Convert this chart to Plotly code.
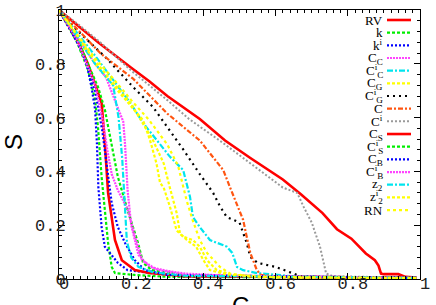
import plotly.graph_objects as go

# ---------------- data ----------------
series_names = ["RV", "k", "k<sup>i</sup>", "C<sub>C</sub>", "C<sup>i</sup><sub>C</sub>",
                "C<sub>G</sub>", "C<sup>i</sup><sub>G</sub>", "C", "C<sup>i</sup>",
                "C<sub>S</sub>", "C<sup>i</sup><sub>S</sub>", "C<sub>B</sub>",
                "C<sup>i</sup><sub>B</sub>", "z<sub>2</sub>", "z<sup>i</sup><sub>2</sub>", "RN"]

rv_x = [0, 0.05, 0.11, 0.2, 0.25, 0.3, 0.39, 0.46, 0.53, 0.62, 0.67, 0.73, 0.77, 0.81, 0.85, 0.875, 0.885, 0.892, 0.9, 0.94, 0.96, 0.99]
rv_y = [1, 0.945, 0.878, 0.785, 0.735, 0.68, 0.595, 0.515, 0.45, 0.37, 0.315, 0.245, 0.185, 0.15, 0.095, 0.07, 0.05, 0.02, 0.018, 0.018, 0.008, 0.005]

k_x = [0, 0.05, 0.08, 0.1, 0.108, 0.118, 0.127, 0.136, 0.146, 0.155, 0.21, 0.3, 0.99]
k_y = [1, 0.88, 0.78, 0.665, 0.565, 0.38, 0.256, 0.134, 0.045, 0.022, 0.015, 0.008, 0.004]

ki_x = [0, 0.05, 0.067, 0.08, 0.09, 0.1, 0.105, 0.109, 0.118, 0.127, 0.141, 0.163, 0.19, 0.257, 0.35, 0.99]
ki_y = [1, 0.88, 0.84, 0.777, 0.714, 0.63, 0.505, 0.342, 0.193, 0.12, 0.097, 0.06, 0.033, 0.022, 0.01, 0.004]

cc_x = [0, 0.05, 0.1, 0.13, 0.15, 0.17, 0.178, 0.183, 0.19, 0.2, 0.21, 0.22, 0.25, 0.3, 0.35, 0.5, 0.99]
cc_y = [1, 0.9, 0.8, 0.75, 0.68, 0.61, 0.585, 0.5, 0.33, 0.2, 0.14, 0.09, 0.045, 0.03, 0.02, 0.01, 0.004]

cic_x = [0, 0.05, 0.1, 0.15, 0.2, 0.233, 0.27, 0.307, 0.344, 0.363, 0.371, 0.39, 0.418, 0.465, 0.48, 0.493, 0.51, 0.548, 0.65, 0.99]
cic_y = [1, 0.915, 0.83, 0.74, 0.65, 0.58, 0.517, 0.455, 0.405, 0.305, 0.23, 0.193, 0.145, 0.12, 0.097, 0.045, 0.033, 0.022, 0.01, 0.004]

cg_x = [0, 0.05, 0.1, 0.15, 0.2, 0.233, 0.252, 0.27, 0.28, 0.29, 0.307, 0.326, 0.344, 0.371, 0.39, 0.41, 0.437, 0.48, 0.6, 0.99]
cg_y = [1, 0.9, 0.8, 0.72, 0.64, 0.59, 0.517, 0.43, 0.357, 0.34, 0.27, 0.18, 0.157, 0.145, 0.12, 0.07, 0.033, 0.015, 0.008, 0.003]

cig_x = [0, 0.05, 0.132, 0.205, 0.26, 0.3, 0.345, 0.39, 0.427, 0.446, 0.465, 0.5, 0.52, 0.53, 0.55, 0.6, 0.65, 0.67, 0.75, 0.99]
cig_y = [1, 0.925, 0.82, 0.714, 0.64, 0.565, 0.48, 0.39, 0.32, 0.27, 0.23, 0.21, 0.134, 0.082, 0.06, 0.045, 0.022, 0.01, 0.006, 0.004]

c_x = [0, 0.05, 0.114, 0.205, 0.3, 0.39, 0.455, 0.474, 0.493, 0.51, 0.52, 0.53, 0.548, 0.56, 0.6, 0.99]
c_y = [1, 0.93, 0.84, 0.745, 0.615, 0.515, 0.405, 0.34, 0.28, 0.22, 0.157, 0.097, 0.033, 0.015, 0.01, 0.005]

ci_x = [0, 0.05, 0.11, 0.2, 0.25, 0.3, 0.36, 0.45, 0.55, 0.62, 0.66, 0.677, 0.7, 0.723, 0.74, 0.76, 0.85, 0.99]
ci_y = [1, 0.95, 0.885, 0.775, 0.72, 0.665, 0.595, 0.51, 0.41, 0.34, 0.32, 0.27, 0.21, 0.12, 0.02, 0.01, 0.008, 0.005]

cs_x = [0, 0.05, 0.08, 0.1, 0.108, 0.118, 0.127, 0.136, 0.155, 0.174, 0.21, 0.25, 0.35, 0.99]
cs_y = [1, 0.89, 0.8, 0.72, 0.69, 0.654, 0.505, 0.32, 0.145, 0.07, 0.033, 0.022, 0.01, 0.004]

cis_x = [0, 0.05, 0.08, 0.108, 0.127, 0.146, 0.163, 0.19, 0.219, 0.233, 0.257, 0.35, 0.99]
cis_y = [1, 0.9, 0.8, 0.714, 0.63, 0.505, 0.38, 0.256, 0.134, 0.06, 0.033, 0.012, 0.004]

cb_x = [0, 0.05, 0.08, 0.1, 0.12, 0.135, 0.146, 0.163, 0.183, 0.21, 0.238, 0.3, 0.99]
cb_y = [1, 0.885, 0.79, 0.7, 0.55, 0.4, 0.282, 0.193, 0.134, 0.07, 0.033, 0.015, 0.004]

cib_x = [0, 0.05, 0.1, 0.12, 0.135, 0.146, 0.163, 0.19, 0.21, 0.23, 0.27, 0.35, 0.99]
cib_y = [1, 0.89, 0.72, 0.6, 0.47, 0.39, 0.33, 0.26, 0.16, 0.07, 0.035, 0.015, 0.004]

z2_x = [0, 0.05, 0.1, 0.15, 0.165, 0.175, 0.182, 0.188, 0.2, 0.22, 0.26, 0.35, 0.99]
z2_y = [1, 0.9, 0.8, 0.72, 0.6, 0.45, 0.3, 0.14, 0.08, 0.045, 0.025, 0.012, 0.004]

zi2_x = [0, 0.05, 0.1, 0.15, 0.2, 0.26, 0.29, 0.307, 0.326, 0.335, 0.354, 0.38, 0.4, 0.418, 0.46, 0.55, 0.99]
zi2_y = [1, 0.905, 0.81, 0.73, 0.65, 0.517, 0.43, 0.34, 0.245, 0.17, 0.145, 0.12, 0.07, 0.033, 0.018, 0.008, 0.003]

rn_x = [0, 0.05, 0.1, 0.15, 0.2, 0.25, 0.3, 0.33, 0.354, 0.37, 0.39, 0.41, 0.446, 0.474, 0.52, 0.6, 0.99]
rn_y = [1, 0.91, 0.82, 0.745, 0.665, 0.59, 0.5, 0.42, 0.29, 0.22, 0.145, 0.097, 0.045, 0.02, 0.012, 0.006, 0.003]

x_tick_vals = [0, 0.2, 0.4, 0.6, 0.8, 1]
x_tick_labels = ["0", "0.2", "0.4", "0.6", "0.8", "1"]
y_tick_vals = [0, 0.2, 0.4, 0.6, 0.8, 1]
y_tick_labels = ["0", "0.2", "0.4", "0.6", "0.8", "1"]

xs = [rv_x, k_x, ki_x, cc_x, cic_x, cg_x, cig_x, c_x, ci_x, cs_x, cis_x, cb_x, cib_x, z2_x, zi2_x, rn_x]
ys = [rv_y, k_y, ki_y, cc_y, cic_y, cg_y, cig_y, c_y, ci_y, cs_y, cis_y, cb_y, cib_y, z2_y, zi2_y, rn_y]

# ---------------- styles ----------------
colors = ["#ff0000", "#00ee00", "#0000ff", "#ff44ff", "#00e5ee", "#ffff00", "#000000", "#ff5511",
          "#9a9a9a", "#ff0000", "#00ee00", "#0000ff", "#ff44ff", "#00e5ee", "#ffff00", "#ffff00"]
dashes = ["solid", "3px,2px", "2px,2px", "2px,1px", "6px,2px,2px,2px", "3px,2px", "2px,4px",
          "5px,2px,2px,2px", "2px,2px", "solid", "3px,2px", "2px,2px", "2px,1px",
          "6px,2px,2px,2px", "3px,2px", "3px,3px"]
widths = [2.6, 2.2, 2.2, 2.2, 2.2, 2.2, 2.2, 2.2, 2.0, 2.6, 2.2, 2.2, 2.2, 2.2, 2.2, 2.2]

W, H = 436, 305
L, R, T, B = 59, 16, 10, 26
plot_w = W - L - R
plot_h = H - T - B

fig = go.Figure()
for i in range(len(xs)):
    fig.add_trace(go.Scatter(x=xs[i], y=ys[i], mode="lines", name=series_names[i],
                             line=dict(color=colors[i], dash=dashes[i], width=widths[i]),
                             showlegend=False))

# custom legend: right-aligned labels with line samples on the right
row0 = 20
row_step = 12.67
for i, name in enumerate(series_names):
    ypx = row0 + row_step * i
    yp = (H - B - ypx) / plot_h
    fig.add_annotation(x=(384 - L) / plot_w, y=yp, xref="paper", yref="paper",
                       text=name, showarrow=False, xanchor="right", yanchor="middle",
                       font=dict(family="Liberation Serif", size=13, color="#000"),
                       borderpad=0)
    fig.add_shape(type="line", xref="paper", yref="paper",
                  x0=(387 - L) / plot_w, x1=(411 - L) / plot_w, y0=yp, y1=yp,
                  line=dict(color=colors[i], dash=dashes[i], width=widths[i]))

# axis titles
fig.add_annotation(x=(13 - L) / plot_w, y=(H - B - 142) / plot_h, xref="paper", yref="paper",
                   text="S", showarrow=False, textangle=-90,
                   font=dict(family="Liberation Sans", size=24, color="#000"),
                   xanchor="center", yanchor="middle")
fig.add_annotation(x=(241 - L) / plot_w, y=(H - B - 291) / plot_h, xref="paper", yref="paper",
                   text="C", showarrow=False,
                   font=dict(family="Liberation Sans", size=24, color="#000"),
                   xanchor="center", yanchor="top", borderpad=0)

axis_common = dict(showline=True, linecolor="#000", linewidth=1, mirror="allticks",
                   ticks="inside", ticklen=6, tickwidth=1, tickcolor="#000",
                   showgrid=False, zeroline=False,
                   tickfont=dict(family="Liberation Mono", size=17, color="#222"))

fig.update_layout(
    width=W, height=H,
    margin=dict(l=L, r=R, t=T, b=B, autoexpand=False),
    plot_bgcolor="#ffffff", paper_bgcolor="#ffffff",
    showlegend=False,
    xaxis=dict(range=[0, 1], tickvals=x_tick_vals, ticktext=x_tick_labels,
               minor=dict(ticks="inside", ticklen=3, tickcolor="#000", dtick=0.02, tick0=0),
               ticklabelshift=5, ticklabelstandoff=-11, **axis_common),
    yaxis=dict(range=[0, 1], tickvals=y_tick_vals, ticktext=y_tick_labels,
               minor=dict(ticks="inside", ticklen=3, tickcolor="#000", dtick=0.04, tick0=0),
               ticklabelstandoff=-11, **axis_common),
)

fig.write_html("out.html", config={"displayModeBar": False},
               post_script="document.body.style.margin='0px';")
